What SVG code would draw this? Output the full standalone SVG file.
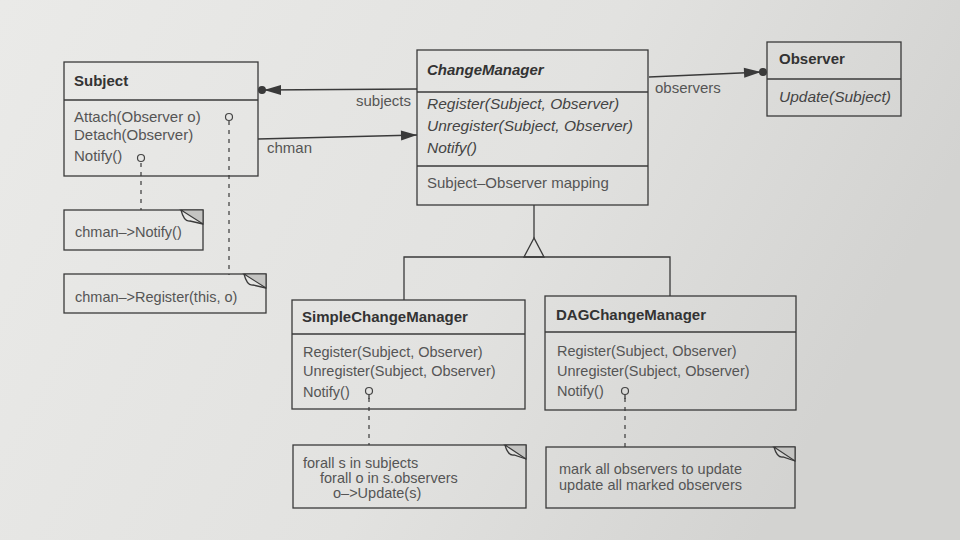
<svg xmlns="http://www.w3.org/2000/svg" width="960" height="540" viewBox="0 0 960 540">
  <defs>
    <linearGradient id="bg" x1="0" y1="0" x2="1" y2="0.3">
      <stop offset="0" stop-color="#eaeae8"/>
      <stop offset="0.6" stop-color="#e2e2e0"/>
      <stop offset="1" stop-color="#d3d3d1"/>
    </linearGradient>
    <marker id="arrowdot" markerUnits="userSpaceOnUse" viewBox="-22 -7 28 14" refX="0" refY="0" markerWidth="28" markerHeight="14" orient="auto">
      <polygon points="-2,0 -19,-5 -19,5" fill="#3a3a3a"/>
      <circle cx="0" cy="0" r="4" fill="#3a3a3a"/>
    </marker>
    <marker id="arrow" markerUnits="userSpaceOnUse" viewBox="-18 -7 20 14" refX="0" refY="0" markerWidth="20" markerHeight="14" orient="auto">
      <polygon points="0,0 -16,-5 -16,5" fill="#3a3a3a"/>
    </marker>
    <style>
      .box { fill: none; stroke: #3a3a3a; stroke-width: 1.3; }
      .line { fill: none; stroke: #3a3a3a; stroke-width: 1.3; }
      .dash { fill: none; stroke: #3a3a3a; stroke-width: 1.2; stroke-dasharray: 4 5; }
      .title { font-family: "Liberation Sans", Arial, sans-serif; font-size: 15px; font-weight: bold; fill: #333; }
      .ititle { font-family: "Liberation Sans", Arial, sans-serif; font-size: 15px; font-weight: bold; font-style: italic; fill: #333; }
      .txt { font-family: "Liberation Sans", Arial, sans-serif; font-size: 14.5px; fill: #555; }
      .stxt { font-family: "Liberation Sans", Arial, sans-serif; font-size: 15px; fill: #555; }
      .itxt { font-family: "Liberation Sans", Arial, sans-serif; font-size: 15.5px; font-style: italic; fill: #444; }
      .lbl { font-family: "Liberation Sans", Arial, sans-serif; font-size: 15px; fill: #555; }
      .pin { fill: none; stroke: #444; stroke-width: 1.2; }
      .fold { fill: #c4c4c2; stroke: #3a3a3a; stroke-width: 1.1; }
    </style>
  </defs>
  <rect width="960" height="540" fill="url(#bg)"/>

  <g id="connectors">
    <path class="line" d="M417,89 L262,90" marker-end="url(#arrowdot)"/>
    <path class="line" d="M258,139 L417,135" marker-end="url(#arrow)"/>
    <path class="line" d="M649,77 L763,72" marker-end="url(#arrowdot)"/>
    <path class="line" d="M534,205 L534,238"/>
    <polygon class="line" points="534,238 524,257 544,257"/>
    <path class="line" d="M404,300 L404,257 L670,257 L670,296"/>
    <text class="lbl" x="411" y="106" text-anchor="end">subjects</text>
    <text class="lbl" x="267" y="153">chman</text>
    <text class="lbl" x="655" y="93">observers</text>
    <path class="dash" d="M141,163 L141,210"/>
    <path class="dash" d="M229,121 L229,275"/>
    <path class="dash" d="M369,398 L369,445"/>
    <path class="dash" d="M625,398 L625,447"/>
  </g>

  <g id="subject">
    <rect class="box" x="64" y="62" width="194" height="114"/>
    <line class="line" x1="64" y1="100" x2="258" y2="100"/>
    <text class="title" x="74" y="86">Subject</text>
    <text class="stxt" x="74" y="122">Attach(Observer o)</text>
    <text class="stxt" x="74" y="140">Detach(Observer)</text>
    <text class="stxt" x="74" y="161">Notify()</text>
    <circle class="pin" cx="229" cy="117" r="3.5"/>
    <circle class="pin" cx="141" cy="158" r="3.5"/>
  </g>

  <g id="note-notify">
    <rect class="box" x="64" y="210" width="139" height="40"/>
    <path class="fold" d="M181,210 L203,210 L203,224 Z"/>
    <path class="line" d="M181,210 Q184,222 190,221 L203,224"/>
    <text class="txt" x="75" y="237">chman–&gt;Notify()</text>
  </g>

  <g id="note-register">
    <rect class="box" x="64" y="274" width="202" height="39"/>
    <path class="fold" d="M244,274 L266,274 L266,288 Z"/>
    <path class="line" d="M244,274 Q247,286 253,285 L266,288"/>
    <text class="txt" x="75" y="302">chman–&gt;Register(this, o)</text>
  </g>

  <g id="changemanager">
    <rect class="box" x="417" y="50" width="231" height="155"/>
    <line class="line" x1="417" y1="92" x2="648" y2="92"/>
    <line class="line" x1="417" y1="166" x2="648" y2="166"/>
    <text class="ititle" x="427" y="75">ChangeManager</text>
    <text class="itxt" x="427" y="109">Register(Subject, Observer)</text>
    <text class="itxt" x="427" y="131">Unregister(Subject, Observer)</text>
    <text class="itxt" x="427" y="153">Notify()</text>
    <text class="lbl" x="427" y="188">Subject–Observer mapping</text>
  </g>

  <g id="observer">
    <rect class="box" x="767" y="42" width="134" height="74"/>
    <line class="line" x1="767" y1="79" x2="901" y2="79"/>
    <text class="title" x="779" y="64">Observer</text>
    <text class="itxt" x="779" y="102">Update(Subject)</text>
  </g>

  <g id="simplechangemanager">
    <rect class="box" x="292" y="300" width="233" height="109"/>
    <line class="line" x1="292" y1="334" x2="525" y2="334"/>
    <text class="title" x="302" y="322">SimpleChangeManager</text>
    <text class="txt" x="303" y="357">Register(Subject, Observer)</text>
    <text class="txt" x="303" y="376">Unregister(Subject, Observer)</text>
    <text class="txt" x="303" y="397">Notify()</text>
    <circle class="pin" cx="369" cy="391" r="3.5"/>
    <line class="line" x1="369" y1="394.5" x2="369" y2="399"/>
  </g>

  <g id="dagchangemanager">
    <rect class="box" x="545" y="296" width="251" height="114"/>
    <line class="line" x1="545" y1="332" x2="796" y2="332"/>
    <text class="title" x="556" y="320">DAGChangeManager</text>
    <text class="txt" x="557" y="356">Register(Subject, Observer)</text>
    <text class="txt" x="557" y="376">Unregister(Subject, Observer)</text>
    <text class="txt" x="557" y="396">Notify()</text>
    <circle class="pin" cx="625" cy="391" r="3.5"/>
    <line class="line" x1="625" y1="394.5" x2="625" y2="399"/>
  </g>

  <g id="note-simple">
    <rect class="box" x="293" y="445" width="233" height="63"/>
    <path class="fold" d="M505,445 L526,445 L526,459 Z"/>
    <path class="line" d="M505,445 Q508,456 514,455 L526,459"/>
    <text class="txt" x="303" y="468">forall s in subjects</text>
    <text class="txt" x="320" y="483">forall o in s.observers</text>
    <text class="txt" x="333" y="498">o–&gt;Update(s)</text>
  </g>

  <g id="note-dag">
    <rect class="box" x="546" y="447" width="249" height="61"/>
    <path class="fold" d="M774,447 L795,447 L795,461 Z"/>
    <path class="line" d="M774,447 Q777,458 783,457 L795,461"/>
    <text class="txt" x="559" y="474">mark all observers to update</text>
    <text class="txt" x="559" y="490">update all marked observers</text>
  </g>
</svg>
